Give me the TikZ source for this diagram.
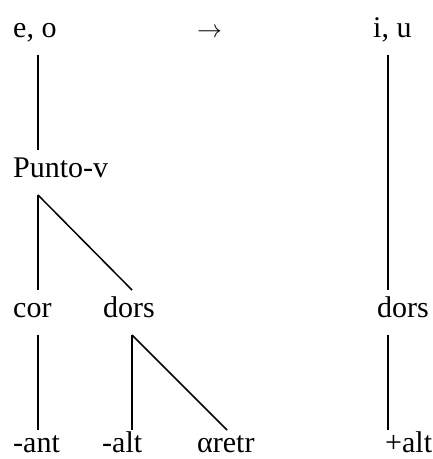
\documentclass[tikz,border=0pt]{standalone}
\usepackage{fontspec}
\setmainfont{Liberation Serif}
\begin{document}
\begin{tikzpicture}[x=1pt,y=-1pt,
  lab/.style={anchor=base west,inner sep=0pt,text depth=0pt,font=\fontsize{30}{32}\selectfont},
  edge/.style={line width=1.5pt}]
\useasboundingbox (0,0) rectangle (433,459);
% row 1
\node[lab] (eo) at (13,37) {e, o};
\node[lab] (arr) at (197,37) {$\rightarrow$};
\node[lab] (iu) at (373,37) {i, u};
% row 2
\node[lab] (pv) at (13,177) {Punto-v};
% row 3
\node[lab] (cor) at (13,317) {cor};
\node[lab] (dors) at (103,317) {dors};
\node[lab] (dorsr) at (377,317) {dors};
% row 4
\node[lab] (ant) at (13,452) {-ant};
\node[lab] (alt) at (102,452) {-alt};
\node[lab] (retr) at (197,452) {αretr};
\node[lab] (palt) at (385,452) {+alt};
% connector end points
\coordinate (eoB) at (38,55);
\coordinate (pvT) at (38,150);
\coordinate (pvB) at (38,195);
\coordinate (corT) at (38,290);
\coordinate (dorsT) at (132,290);
\coordinate (corB) at (38,335);
\coordinate (antT) at (38,430);
\coordinate (dorsB) at (132,335);
\coordinate (altT) at (132,430);
\coordinate (retrT) at (227,430);
\coordinate (iuB) at (388,55);
\coordinate (dorsrT) at (388,290);
\coordinate (dorsrB) at (388,335);
\coordinate (paltT) at (388,430);
\draw[edge] (eoB) -- (pvT);
\draw[edge] (pvB) -- (corT);
\draw[edge] (pvB) -- (dorsT);
\draw[edge] (corB) -- (antT);
\draw[edge] (dorsB) -- (altT);
\draw[edge] (dorsB) -- (retrT);
\draw[edge] (iuB) -- (dorsrT);
\draw[edge] (dorsrB) -- (paltT);
\end{tikzpicture}
\end{document}
